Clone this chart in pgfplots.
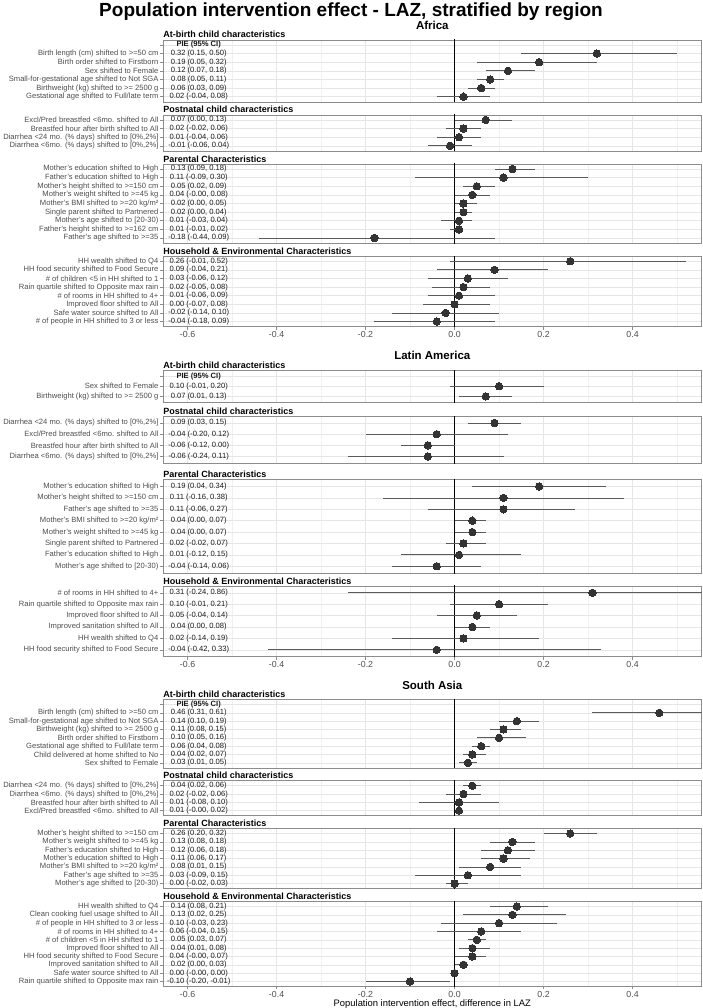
\documentclass[border=0pt]{standalone}
\usepackage{pgfplots}
\pgfplotsset{compat=1.18}
\usepackage{pgfplotstable}
\usepackage{fontspec}
\setmainfont{Liberation Sans}

\definecolor{ptcol}{HTML}{333333}
\definecolor{cicol}{HTML}{5A5A5A}
\definecolor{gridmaj}{HTML}{E6E6E6}
\definecolor{gridmin}{HTML}{F0F0F0}
\definecolor{bordercol}{HTML}{8C8C8C}
\definecolor{labcol}{HTML}{4D4D4D}

\pgfplotsset{
  every axis title shift=0pt,
  panel/.style={
    scale only axis, width=538.4pt, anchor=north west,
    xmin=-0.655, xmax=0.555, ymin=0.4,
    xtick={-0.6,-0.4,-0.2,0,0.2,0.4},
    minor xtick={-0.5,-0.3,-0.1,0.1,0.3,0.5},
    xticklabels={-0.6,-0.4,-0.2,0.0,0.2,0.4},
    grid=both,
    major grid style={draw=gridmaj, line width=0.55pt},
    minor grid style={draw=gridmin, line width=0.35pt},
    axis line style={draw=bordercol, line width=0.5pt},
    tick style={draw=bordercol, line width=0.5pt},
    major tick length=3pt, minor tick length=0pt,
    tick align=outside,
    xtick pos=bottom, ytick pos=left,
    yticklabel style={font=\fontsize{7.6}{8.5}\selectfont, text=labcol, inner sep=0pt, xshift=-1.5pt},
    xticklabel style={font=\fontsize{8.8}{10}\selectfont, text=labcol, inner sep=0pt, yshift=-1.8pt},
    title style={at={(0,1)}, anchor=base west, yshift=1.8pt, inner sep=0pt, font=\bfseries\fontsize{9}{10}\selectfont},
    clip=true,
  },
  notbottom/.style={xmajorticks=false},
  cinode/.style={every node near coord/.append style={anchor=center, font=\fontsize{7.6}{8.5}\selectfont, text=black!90, inner sep=0pt}},
}

\newcommand{\drawpanel}[1]{%
  \addplot[black, line width=0.75pt, forget plot] coordinates {(0,0) (0,20)};
  \addplot[only marks, mark=none, forget plot, error bars/.cd, x dir=both, x explicit, error mark=none, error bar style={draw=cicol, line width=0.75pt}]
    table[x=est, y=y, x error plus expr=\thisrow{hi}-\thisrow{est}, x error minus expr=\thisrow{est}-\thisrow{lo}] {#1};
  \addplot[only marks, mark=*, mark size=3.7pt, mark options={fill=ptcol, draw=ptcol, line width=0pt}] table[x=est, y=y] {#1};
  \addplot[only marks, mark=none, nodes near coords, point meta=explicit symbolic, cinode] table[x expr=-0.575, y=y, meta=ci] {#1};
}
\newcommand{\header}[1]{%
  \addplot[only marks, mark=none, nodes near coords={\textbf{PIE (95\% CI)}}, cinode] coordinates {(-0.575,#1)};
}

% ---------------- Africa ----------------
\pgfplotstableread[col sep=semicolon]{
y;est;lo;hi;ci
6;0.32;0.15;0.50;0.32 (0.15, 0.50)
5;0.19;0.05;0.32;0.19 (0.05, 0.32)
4;0.12;0.07;0.18;0.12 (0.07, 0.18)
3;0.08;0.05;0.11;0.08 (0.05, 0.11)
2;0.06;0.03;0.09;0.06 (0.03, 0.09)
1;0.02;-0.04;0.08;0.02 (-0.04, 0.08)
}\afA
\pgfplotstableread[col sep=semicolon]{
y;est;lo;hi;ci
4;0.07;0.00;0.13;0.07 (0.00, 0.13)
3;0.02;-0.02;0.06;0.02 (-0.02, 0.06)
2;0.01;-0.04;0.06;0.01 (-0.04, 0.06)
1;-0.01;-0.06;0.04;-0.01 (-0.06, 0.04)
}\afB
\pgfplotstableread[col sep=semicolon]{
y;est;lo;hi;ci
9;0.13;0.09;0.18;0.13 (0.09, 0.18)
8;0.11;-0.09;0.30;0.11 (-0.09, 0.30)
7;0.05;0.02;0.09;0.05 (0.02, 0.09)
6;0.04;-0.00;0.08;0.04 (-0.00, 0.08)
5;0.02;0.00;0.05;0.02 (0.00, 0.05)
4;0.02;0.00;0.04;0.02 (0.00, 0.04)
3;0.01;-0.03;0.04;0.01 (-0.03, 0.04)
2;0.01;-0.01;0.02;0.01 (-0.01, 0.02)
1;-0.18;-0.44;0.09;-0.18 (-0.44, 0.09)
}\afC
\pgfplotstableread[col sep=semicolon]{
y;est;lo;hi;ci
8;0.26;-0.01;0.52;0.26 (-0.01, 0.52)
7;0.09;-0.04;0.21;0.09 (-0.04, 0.21)
6;0.03;-0.06;0.12;0.03 (-0.06, 0.12)
5;0.02;-0.05;0.08;0.02 (-0.05, 0.08)
4;0.01;-0.06;0.09;0.01 (-0.06, 0.09)
3;0.00;-0.07;0.08;0.00 (-0.07, 0.08)
2;-0.02;-0.14;0.10;-0.02 (-0.14, 0.10)
1;-0.04;-0.18;0.09;-0.04 (-0.18, 0.09)
}\afD
% ---------------- Latin America ----------------
\pgfplotstableread[col sep=semicolon]{
y;est;lo;hi;ci
2;0.10;-0.01;0.20;0.10 (-0.01, 0.20)
1;0.07;0.01;0.13;0.07 (0.01, 0.13)
}\laA
\pgfplotstableread[col sep=semicolon]{
y;est;lo;hi;ci
4;0.09;0.03;0.15;0.09 (0.03, 0.15)
3;-0.04;-0.20;0.12;-0.04 (-0.20, 0.12)
2;-0.06;-0.12;0.00;-0.06 (-0.12, 0.00)
1;-0.06;-0.24;0.11;-0.06 (-0.24, 0.11)
}\laB
\pgfplotstableread[col sep=semicolon]{
y;est;lo;hi;ci
8;0.19;0.04;0.34;0.19 (0.04, 0.34)
7;0.11;-0.16;0.38;0.11 (-0.16, 0.38)
6;0.11;-0.06;0.27;0.11 (-0.06, 0.27)
5;0.04;0.00;0.07;0.04 (0.00, 0.07)
4;0.04;0.00;0.07;0.04 (0.00, 0.07)
3;0.02;-0.02;0.07;0.02 (-0.02, 0.07)
2;0.01;-0.12;0.15;0.01 (-0.12, 0.15)
1;-0.04;-0.14;0.06;-0.04 (-0.14, 0.06)
}\laC
\pgfplotstableread[col sep=semicolon]{
y;est;lo;hi;ci
6;0.31;-0.24;0.86;0.31 (-0.24, 0.86)
5;0.10;-0.01;0.21;0.10 (-0.01, 0.21)
4;0.05;-0.04;0.14;0.05 (-0.04, 0.14)
3;0.04;0.00;0.08;0.04 (0.00, 0.08)
2;0.02;-0.14;0.19;0.02 (-0.14, 0.19)
1;-0.04;-0.42;0.33;-0.04 (-0.42, 0.33)
}\laD
% ---------------- South Asia ----------------
\pgfplotstableread[col sep=semicolon]{
y;est;lo;hi;ci
7;0.46;0.31;0.61;0.46 (0.31, 0.61)
6;0.14;0.10;0.19;0.14 (0.10, 0.19)
5;0.11;0.08;0.15;0.11 (0.08, 0.15)
4;0.10;0.05;0.16;0.10 (0.05, 0.16)
3;0.06;0.04;0.08;0.06 (0.04, 0.08)
2;0.04;0.02;0.07;0.04 (0.02, 0.07)
1;0.03;0.01;0.05;0.03 (0.01, 0.05)
}\saA
\pgfplotstableread[col sep=semicolon]{
y;est;lo;hi;ci
4;0.04;0.02;0.06;0.04 (0.02, 0.06)
3;0.02;-0.02;0.06;0.02 (-0.02, 0.06)
2;0.01;-0.08;0.10;0.01 (-0.08, 0.10)
1;0.01;-0.00;0.02;0.01 (-0.00, 0.02)
}\saB
\pgfplotstableread[col sep=semicolon]{
y;est;lo;hi;ci
7;0.26;0.20;0.32;0.26 (0.20, 0.32)
6;0.13;0.08;0.18;0.13 (0.08, 0.18)
5;0.12;0.06;0.18;0.12 (0.06, 0.18)
4;0.11;0.06;0.17;0.11 (0.06, 0.17)
3;0.08;0.01;0.15;0.08 (0.01, 0.15)
2;0.03;-0.09;0.15;0.03 (-0.09, 0.15)
1;0.00;-0.02;0.03;0.00 (-0.02, 0.03)
}\saC
\pgfplotstableread[col sep=semicolon]{
y;est;lo;hi;ci
10;0.14;0.08;0.21;0.14 (0.08, 0.21)
9;0.13;0.02;0.25;0.13 (0.02, 0.25)
8;0.10;-0.03;0.23;0.10 (-0.03, 0.23)
7;0.06;-0.04;0.15;0.06 (-0.04, 0.15)
6;0.05;0.03;0.07;0.05 (0.03, 0.07)
5;0.04;0.01;0.08;0.04 (0.01, 0.08)
4;0.04;-0.00;0.07;0.04 (-0.00, 0.07)
3;0.02;0.00;0.03;0.02 (0.00, 0.03)
2;0.00;-0.00;0.00;0.00 (-0.00, 0.00)
1;-0.10;-0.20;-0.01;-0.10 (-0.20, -0.01)
}\saD

\begin{document}
\begin{tikzpicture}
\useasboundingbox (0pt,0pt) rectangle (702pt,-1008pt);

\node[anchor=base, inner sep=0pt] at (351pt,-17pt) {\bfseries\fontsize{19}{22}\selectfont Population intervention effect - LAZ, stratified by region};
\node[anchor=base, inner sep=0pt] at (432.3pt,-29.3pt) {\bfseries\fontsize{11.5}{13}\selectfont Africa};
\node[anchor=base, inner sep=0pt] at (432.3pt,-359.1pt) {\bfseries\fontsize{11.5}{13}\selectfont Latin America};
\node[anchor=base, inner sep=0pt] at (432.3pt,-689pt) {\bfseries\fontsize{11.5}{13}\selectfont South Asia};
\node[anchor=base, inner sep=0pt] at (432.3pt,-1006pt) {\fontsize{9.4}{11}\selectfont Population intervention effect, difference in LAZ};

% ===== Africa =====
\begin{axis}[panel, notbottom, at={(163.1pt,-39.8pt)}, height=62.06pt, ymax=7.6, ytick={1,...,7},
  title={At-birth child characteristics},
  yticklabels={{Gestational age shifted to Full/late term},{Birthweight (kg) shifted to >= 2500 g},{Small-for-gestational age shifted to Not SGA},{Sex shifted to Female},{Birth order shifted to Firstborn},{Birth length (cm) shifted to >=50 cm},{}}]
\drawpanel{\afA}
\header{7}
\end{axis}

\begin{axis}[panel, notbottom, at={(163.1pt,-114.76pt)}, height=36.20pt, ymax=4.6, ytick={1,...,4},
  title={Postnatal child characteristics},
  yticklabels={{Diarrhea <6mo. (\% days) shifted to [0\%,2\%]},{Diarrhea <24 mo. (\% days) shifted to [0\%,2\%]},{Breastfed hour after birth shifted to All},{Excl/Pred breastfed <6mo. shifted to All}}]
\drawpanel{\afB}
\end{axis}

\begin{axis}[panel, notbottom, at={(163.1pt,-163.86pt)}, height=79.30pt, ymax=9.6, ytick={1,...,9},
  title={Parental Characteristics},
  yticklabels={{Father's age shifted to >=35},{Father's height shifted to >=162 cm},{Mother's age shifted to [20-30)},{Single parent shifted to Partnered},{Mother's BMI shifted to >=20 kg/m²},{Mother's weight shifted to >=45 kg},{Mother's height shifted to >=150 cm},{Father's education shifted to High},{Mother's education shifted to High}}]
\drawpanel{\afC}
\end{axis}

\begin{axis}[panel, at={(163.1pt,-256.06pt)}, height=70.68pt, ymax=8.6, ytick={1,...,8},
  title={Household \& Environmental Characteristics},
  yticklabels={{\# of people in HH shifted to 3 or less},{Safe water source shifted to All},{Improved floor shifted to All},{\# of rooms in HH shifted to 4+},{Rain quartile shifted to Opposite max rain},{\# of children <5 in HH shifted to 1},{HH food security shifted to Food Secure},{HH wealth shifted to Q4}}]
\drawpanel{\afD}
\end{axis}

% ===== Latin America =====
\begin{axis}[panel, notbottom, at={(163.1pt,-370pt)}, height=32.5pt, ymax=3.6, ytick={1,...,3},
  title={At-birth child characteristics},
  yticklabels={{Birthweight (kg) shifted to >= 2500 g},{Sex shifted to Female},{}}]
\drawpanel{\laA}
\header{3}
\end{axis}

\begin{axis}[panel, notbottom, at={(163.1pt,-416.3pt)}, height=47.0pt, ymax=4.6, ytick={1,...,4},
  title={Postnatal child characteristics},
  yticklabels={{Diarrhea <6mo. (\% days) shifted to [0\%,2\%]},{Breastfed hour after birth shifted to All},{Excl/Pred breastfed <6mo. shifted to All},{Diarrhea <24 mo. (\% days) shifted to [0\%,2\%]}}]
\drawpanel{\laB}
\end{axis}

\begin{axis}[panel, notbottom, at={(163.1pt,-479.69pt)}, height=93.40pt, ymax=8.6, ytick={1,...,8},
  title={Parental Characteristics},
  yticklabels={{Mother's age shifted to [20-30)},{Father's education shifted to High},{Single parent shifted to Partnered},{Mother's weight shifted to >=45 kg},{Mother's BMI shifted to >=20 kg/m²},{Father's age shifted to >=35},{Mother's height shifted to >=150 cm},{Mother's education shifted to High}}]
\drawpanel{\laC}
\end{axis}

\begin{axis}[panel, at={(163.1pt,-585.99pt)}, height=70.62pt, ymax=6.6, ytick={1,...,6},
  title={Household \& Environmental Characteristics},
  yticklabels={{HH food security shifted to Food Secure},{HH wealth shifted to Q4},{Improved sanitation shifted to All},{Improved floor shifted to All},{Rain quartile shifted to Opposite max rain},{\# of rooms in HH shifted to 4+}}]
\drawpanel{\laD}
\end{axis}

% ===== South Asia =====
\begin{axis}[panel, notbottom, at={(163.1pt,-699.5pt)}, height=68.31pt, ymax=8.6, ytick={1,...,8},
  title={At-birth child characteristics},
  yticklabels={{Sex shifted to Female},{Child delivered at home shifted to No},{Gestational age shifted to Full/late term},{Birth order shifted to Firstborn},{Birthweight (kg) shifted to >= 2500 g},{Small-for-gestational age shifted to Not SGA},{Birth length (cm) shifted to >=50 cm},{}}]
\drawpanel{\saA}
\header{8}
\end{axis}

\begin{axis}[panel, notbottom, at={(163.1pt,-780.71pt)}, height=34.99pt, ymax=4.6, ytick={1,...,4},
  title={Postnatal child characteristics},
  yticklabels={{Excl/Pred breastfed <6mo. shifted to All},{Breastfed hour after birth shifted to All},{Diarrhea <6mo. (\% days) shifted to [0\%,2\%]},{Diarrhea <24 mo. (\% days) shifted to [0\%,2\%]}}]
\drawpanel{\saB}
\end{axis}

\begin{axis}[panel, notbottom, at={(163.1pt,-828.6pt)}, height=59.98pt, ymax=7.6, ytick={1,...,7},
  title={Parental Characteristics},
  yticklabels={{Mother's age shifted to [20-30)},{Father's age shifted to >=35},{Mother's BMI shifted to >=20 kg/m²},{Mother's education shifted to High},{Father's education shifted to High},{Mother's weight shifted to >=45 kg},{Mother's height shifted to >=150 cm}}]
\drawpanel{\saC}
\end{axis}

\begin{axis}[panel, at={(163.1pt,-901.48pt)}, height=84.97pt, ymax=10.6, ytick={1,...,10},
  title={Household \& Environmental Characteristics},
  yticklabels={{Rain quartile shifted to Opposite max rain},{Safe water source shifted to All},{Improved sanitation shifted to All},{HH food security shifted to Food Secure},{Improved floor shifted to All},{\# of children <5 in HH shifted to 1},{\# of rooms in HH shifted to 4+},{\# of people in HH shifted to 3 or less},{Clean cooking fuel usage shifted to All},{HH wealth shifted to Q4}}]
\drawpanel{\saD}
\end{axis}

\end{tikzpicture}
\end{document}
